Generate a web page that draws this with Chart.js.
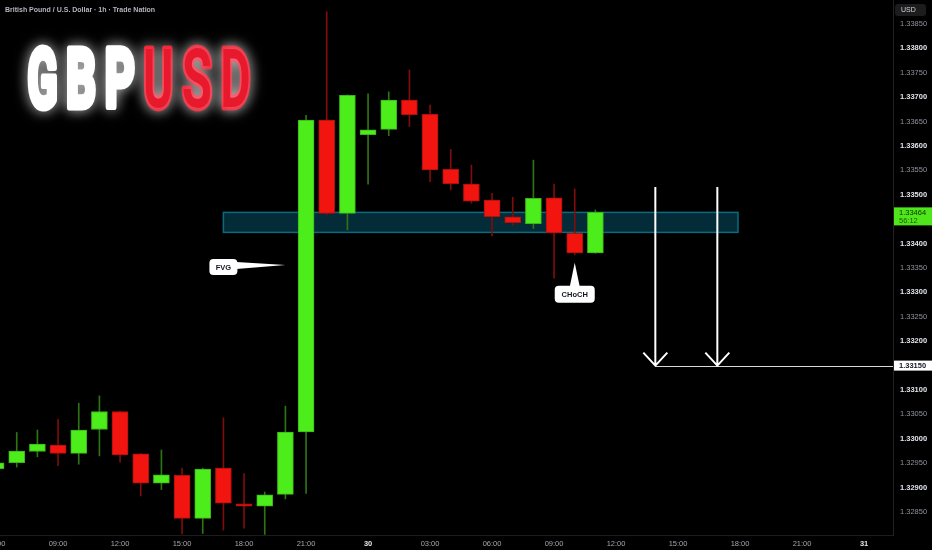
<!DOCTYPE html>
<html>
<head>
<meta charset="utf-8">
<script src="https://cdn.jsdelivr.net/npm/chart.js@4.4.1/dist/chart.umd.min.js"></script>
<style>
  html, body { margin: 0; padding: 0; background: #000; overflow: hidden; }
  #wrap { position: relative; width: 932px; height: 550px; }
</style>
</head>
<body>
<div id="wrap"><canvas id="chart" width="932" height="550"></canvas></div>
<script>
// hourly candles, hour 0 = 29th 00:00
const hours  = [6, 7, 8, 9, 10, 11, 12, 13, 14, 15, 16, 17, 18, 19, 20, 21, 22, 23, 24, 25, 26, 27, 28, 29, 30, 31, 32, 33, 34, 35];
const opens  = [1.32939, 1.32951, 1.32974, 1.32987, 1.32970, 1.33019, 1.33056, 1.32969, 1.32909, 1.32925, 1.32837, 1.32940, 1.32867, 1.32862, 1.32886,
                1.33014, 1.33653, 1.33462, 1.33623, 1.33634, 1.33694, 1.33665, 1.33552, 1.33522, 1.33489, 1.33455, 1.33441, 1.33494, 1.33421, 1.33381];
const highs  = [1.32954, 1.33013, 1.33018, 1.33040, 1.33073, 1.33088, 1.33057, 1.32970, 1.32977, 1.32940, 1.32940, 1.33043, 1.32929, 1.32891, 1.33067,
                1.33663, 1.33875, 1.33705, 1.33707, 1.33711, 1.33756, 1.33684, 1.33593, 1.33561, 1.33503, 1.33495, 1.33571, 1.33522, 1.33512, 1.33469];
const lows   = [1.32936, 1.32942, 1.32963, 1.32945, 1.32948, 1.32965, 1.32952, 1.32883, 1.32896, 1.32805, 1.32806, 1.32813, 1.32817, 1.32804, 1.32877,
                1.32888, 1.33459, 1.33428, 1.33522, 1.33621, 1.33640, 1.33527, 1.33510, 1.33483, 1.33416, 1.33438, 1.33431, 1.33329, 1.33377, 1.33380];
const closes = [1.32951, 1.32975, 1.32989, 1.32970, 1.33018, 1.33056, 1.32967, 1.32909, 1.32926, 1.32837, 1.32938, 1.32868, 1.32862, 1.32885, 1.33014,
                1.33653, 1.33462, 1.33704, 1.33633, 1.33694, 1.33664, 1.33551, 1.33523, 1.33487, 1.33455, 1.33443, 1.33493, 1.33422, 1.33381, 1.33464];

const timeTicks  = [6, 9, 12, 15, 18, 21, 24, 27, 30, 33, 36, 39, 42, 45, 48];
const timeLabels = ['06:00', '09:00', '12:00', '15:00', '18:00', '21:00', '30', '03:00', '06:00', '09:00', '12:00', '15:00', '18:00', '21:00', '31'];
const priceTicks = [1.32850, 1.32900, 1.32950, 1.33000, 1.33050, 1.33100, 1.33150, 1.33200, 1.33250, 1.33300, 1.33350,
                    1.33400, 1.33450, 1.33500, 1.33550, 1.33600, 1.33650, 1.33700, 1.33750, 1.33800, 1.33850];

// drawings
const zoneFrom = 17, zoneTo = 41.9, zoneTop = 1.33464, zoneBottom = 1.33423;
const targetLevel = 1.33150, targetFrom = 37.9;
const arrowHours = [37.9, 40.9], arrowTop = 1.33516;
const fvgTip = { x: 20, y: 1.33356 };
const chochTip = { x: 34, y: 1.33361 };
const lastPrice = 1.33464, countdown = '56:12';

const UP = '#4ded1b', UP_EDGE = '#3bb51a', UP_WICK = '#2e7414';
const DOWN = '#f2140f', DOWN_EDGE = '#b00f0c', DOWN_WICK = '#7e0d0c';
const FONT = '"Liberation Sans", Arial, sans-serif';

const isUp = hours.map((h, i) => closes[i] >= opens[i]);

function roundRect(ctx, x, y, w, h, r) {
  ctx.beginPath();
  ctx.moveTo(x + r, y);
  ctx.arcTo(x + w, y, x + w, y + h, r);
  ctx.arcTo(x + w, y + h, x, y + h, r);
  ctx.arcTo(x, y + h, x, y, r);
  ctx.arcTo(x, y, x + w, y, r);
  ctx.closePath();
}

// keep the plot flush with the canvas edges
function noPadding(scale) {
  scale.paddingLeft = 0;
  scale.paddingRight = 0;
  scale.paddingTop = 0;
  scale.paddingBottom = 0;
}

const drawings = {
  id: 'drawings',
  beforeDatasetsDraw(chart) {
    const { ctx, scales: { x, y } } = chart;
    const x0 = x.getPixelForValue(zoneFrom), x1 = x.getPixelForValue(zoneTo);
    const y0 = y.getPixelForValue(zoneTop), y1 = y.getPixelForValue(zoneBottom);
    ctx.save();
    ctx.fillStyle = '#032c38';
    ctx.fillRect(x0, y0, x1 - x0, y1 - y0);
    ctx.strokeStyle = '#0c6a7e';
    ctx.lineWidth = 1.5;
    ctx.strokeRect(x0, y0, x1 - x0, y1 - y0);
    ctx.restore();
  },
  afterDatasetsDraw(chart) {
    const { ctx, chartArea, scales: { x, y } } = chart;
    ctx.save();
    // target line
    const ty = Math.round(y.getPixelForValue(targetLevel)) + 0.5;
    ctx.strokeStyle = '#d8d8d8';
    ctx.lineWidth = 1;
    ctx.beginPath();
    ctx.moveTo(x.getPixelForValue(targetFrom), ty);
    ctx.lineTo(chartArea.right, ty);
    ctx.stroke();

    // arrows
    ctx.strokeStyle = '#ffffff';
    ctx.lineWidth = 2;
    arrowHours.forEach(h => {
      const ax = x.getPixelForValue(h);
      const top = y.getPixelForValue(arrowTop);
      const tip = y.getPixelForValue(targetLevel);
      ctx.beginPath();
      ctx.moveTo(ax, top);
      ctx.lineTo(ax, tip);
      ctx.moveTo(ax - 12, tip - 13);
      ctx.lineTo(ax, tip);
      ctx.lineTo(ax + 12, tip - 13);
      ctx.stroke();
    });

    // FVG callout
    ctx.fillStyle = '#ffffff';
    let tx = x.getPixelForValue(fvgTip.x), tyv = y.getPixelForValue(fvgTip.y);
    roundRect(ctx, tx - 76, tyv - 6, 28, 16, 4);
    ctx.fill();
    ctx.beginPath();
    ctx.moveTo(tx - 49, tyv - 3);
    ctx.lineTo(tx, tyv);
    ctx.lineTo(tx - 49, tyv + 4);
    ctx.closePath();
    ctx.fill();
    ctx.fillStyle = '#131722';
    ctx.font = 'bold 7.5px ' + FONT;
    ctx.textAlign = 'center';
    ctx.textBaseline = 'middle';
    ctx.fillText('FVG', tx - 62, tyv + 2.5);

    // CHoCH callout
    ctx.fillStyle = '#ffffff';
    tx = x.getPixelForValue(chochTip.x); tyv = y.getPixelForValue(chochTip.y);
    roundRect(ctx, tx - 20, tyv + 23, 40, 17, 4);
    ctx.fill();
    ctx.beginPath();
    ctx.moveTo(tx - 5, tyv + 24);
    ctx.lineTo(tx, tyv);
    ctx.lineTo(tx + 5, tyv + 24);
    ctx.closePath();
    ctx.fill();
    ctx.fillStyle = '#131722';
    ctx.fillText('CHoCH', tx, tyv + 32);
    ctx.restore();
  },
  afterDraw(chart) {
    const { ctx, chartArea, scales: { y } } = chart;
    const ax = chartArea.right;
    ctx.save();
    ctx.textAlign = 'left';
    ctx.textBaseline = 'middle';

    // last price label
    const py = y.getPixelForValue(lastPrice);
    ctx.fillStyle = '#4fe61b';
    ctx.fillRect(ax + 1, py - 5, 932 - ax - 1, 18);
    ctx.fillStyle = '#0d2f04';
    ctx.font = '7.5px ' + FONT;
    ctx.fillText(lastPrice.toFixed(5), ax + 6, py + 0.5);
    ctx.fillStyle = '#1e5a0c';
    ctx.fillText(countdown, ax + 6, py + 8.5);

    // target price label
    const ty = y.getPixelForValue(targetLevel);
    ctx.fillStyle = '#ffffff';
    ctx.fillRect(ax + 1, ty - 5, 932 - ax - 1, 10);
    ctx.fillStyle = '#131722';
    ctx.font = 'bold 7.5px ' + FONT;
    ctx.fillText(targetLevel.toFixed(5), ax + 6, ty + 0.5);

    // currency button
    ctx.fillStyle = '#1c1c1c';
    roundRect(ctx, ax + 2, 4, 31, 12, 3);
    ctx.fill();
    ctx.fillStyle = '#d1d4dc';
    ctx.font = '7px ' + FONT;
    ctx.fillText('USD', ax + 8, 10.5);

    // symbol line
    ctx.fillStyle = '#b2b5be';
    ctx.font = 'bold 7px ' + FONT;
    ctx.textBaseline = 'alphabetic';
    ctx.fillText('British Pound / U.S. Dollar \u00b7 1h \u00b7 Trade Nation', 5, 12);

    // big title
    const letters = ['G', 'B', 'P', 'U', 'S', 'D'];
    ctx.font = 'bold 82px Roboto, ' + FONT;
    ctx.shadowColor = 'rgba(255,255,255,0.6)';
    ctx.shadowBlur = 14;
    letters.forEach((ch, i) => {
      const w = ctx.measureText(ch).width;
      const sx = 30 / w;
      ctx.save();
      ctx.translate(27.5 + i * 38.6, 107);
      ctx.scale(sx, 1);
      const col = i < 3 ? '#ffffff' : '#e8192c';
      ctx.fillStyle = col;
      ctx.strokeStyle = col;
      ctx.lineWidth = 7;
      ctx.lineJoin = 'round';
      ctx.strokeText(ch, 0, 0);
      ctx.fillText(ch, 0, 0);
      ctx.restore();
    });
    ctx.restore();
  }
};

const ctx = document.getElementById('chart').getContext('2d');
const chart = new Chart(ctx, {
  type: 'bar',
  data: {
    datasets: [
      {
        label: 'wicks',
        data: hours.map((h, i) => ({ x: h, y: [lows[i], highs[i]] })),
        backgroundColor: isUp.map(u => u ? UP_WICK : DOWN_WICK),
        barThickness: 1,
        grouped: false,
        order: 2
      },
      {
        label: 'bodies',
        data: hours.map((h, i) => ({ x: h, y: [opens[i], closes[i]] })),
        backgroundColor: isUp.map(u => u ? UP : DOWN),
        borderColor: isUp.map(u => u ? UP_EDGE : DOWN_EDGE),
        borderWidth: 1,
        borderSkipped: false,
        barThickness: 16,
        grouped: false,
        order: 1
      }
    ]
  },
  options: {
    responsive: false,
    devicePixelRatio: 1,
    animation: false,
    layout: { padding: 0 },
    plugins: { legend: { display: false }, tooltip: { enabled: false } },
    scales: {
      x: {
        type: 'linear',
        offset: false,
        min: 6.19,
        max: 49.4,
        grid: { display: false, drawTicks: false, offset: false },
        border: { display: true, color: '#1c1c1c' },
        afterBuildTicks: scale => { scale.ticks = timeTicks.map(v => ({ value: v })); },
        afterFit: scale => { scale.height = 15; noPadding(scale); },
        ticks: {
          padding: 4,
          maxRotation: 0,
          autoSkip: false,
          callback: v => timeLabels[timeTicks.indexOf(v)],
          color: c => (c.tick && c.tick.value % 24 === 0) ? '#e6e6e6' : '#a3a6af',
          font: c => ({ family: FONT, size: 7.5, weight: (c.tick && c.tick.value % 24 === 0) ? 'bold' : 'normal' })
        }
      },
      y: {
        type: 'linear',
        position: 'right',
        min: 1.328029,
        max: 1.338992,
        grid: { display: false, drawTicks: false },
        border: { display: true, color: '#222222' },
        afterBuildTicks: scale => { scale.ticks = priceTicks.map(v => ({ value: v })); },
        afterFit: scale => { scale.width = 39; noPadding(scale); },
        ticks: {
          padding: 7,
          callback: v => v.toFixed(5),
          color: c => (c.tick && Math.round(c.tick.value * 1e5) % 100 === 0) ? '#e0e3ea' : '#8f929b',
          font: c => ({ family: FONT, size: 7.5, weight: (c.tick && Math.round(c.tick.value * 1e5) % 100 === 0) ? 'bold' : 'normal' })
        }
      }
    }
  },
  plugins: [drawings]
});
</script>
</body>
</html>
